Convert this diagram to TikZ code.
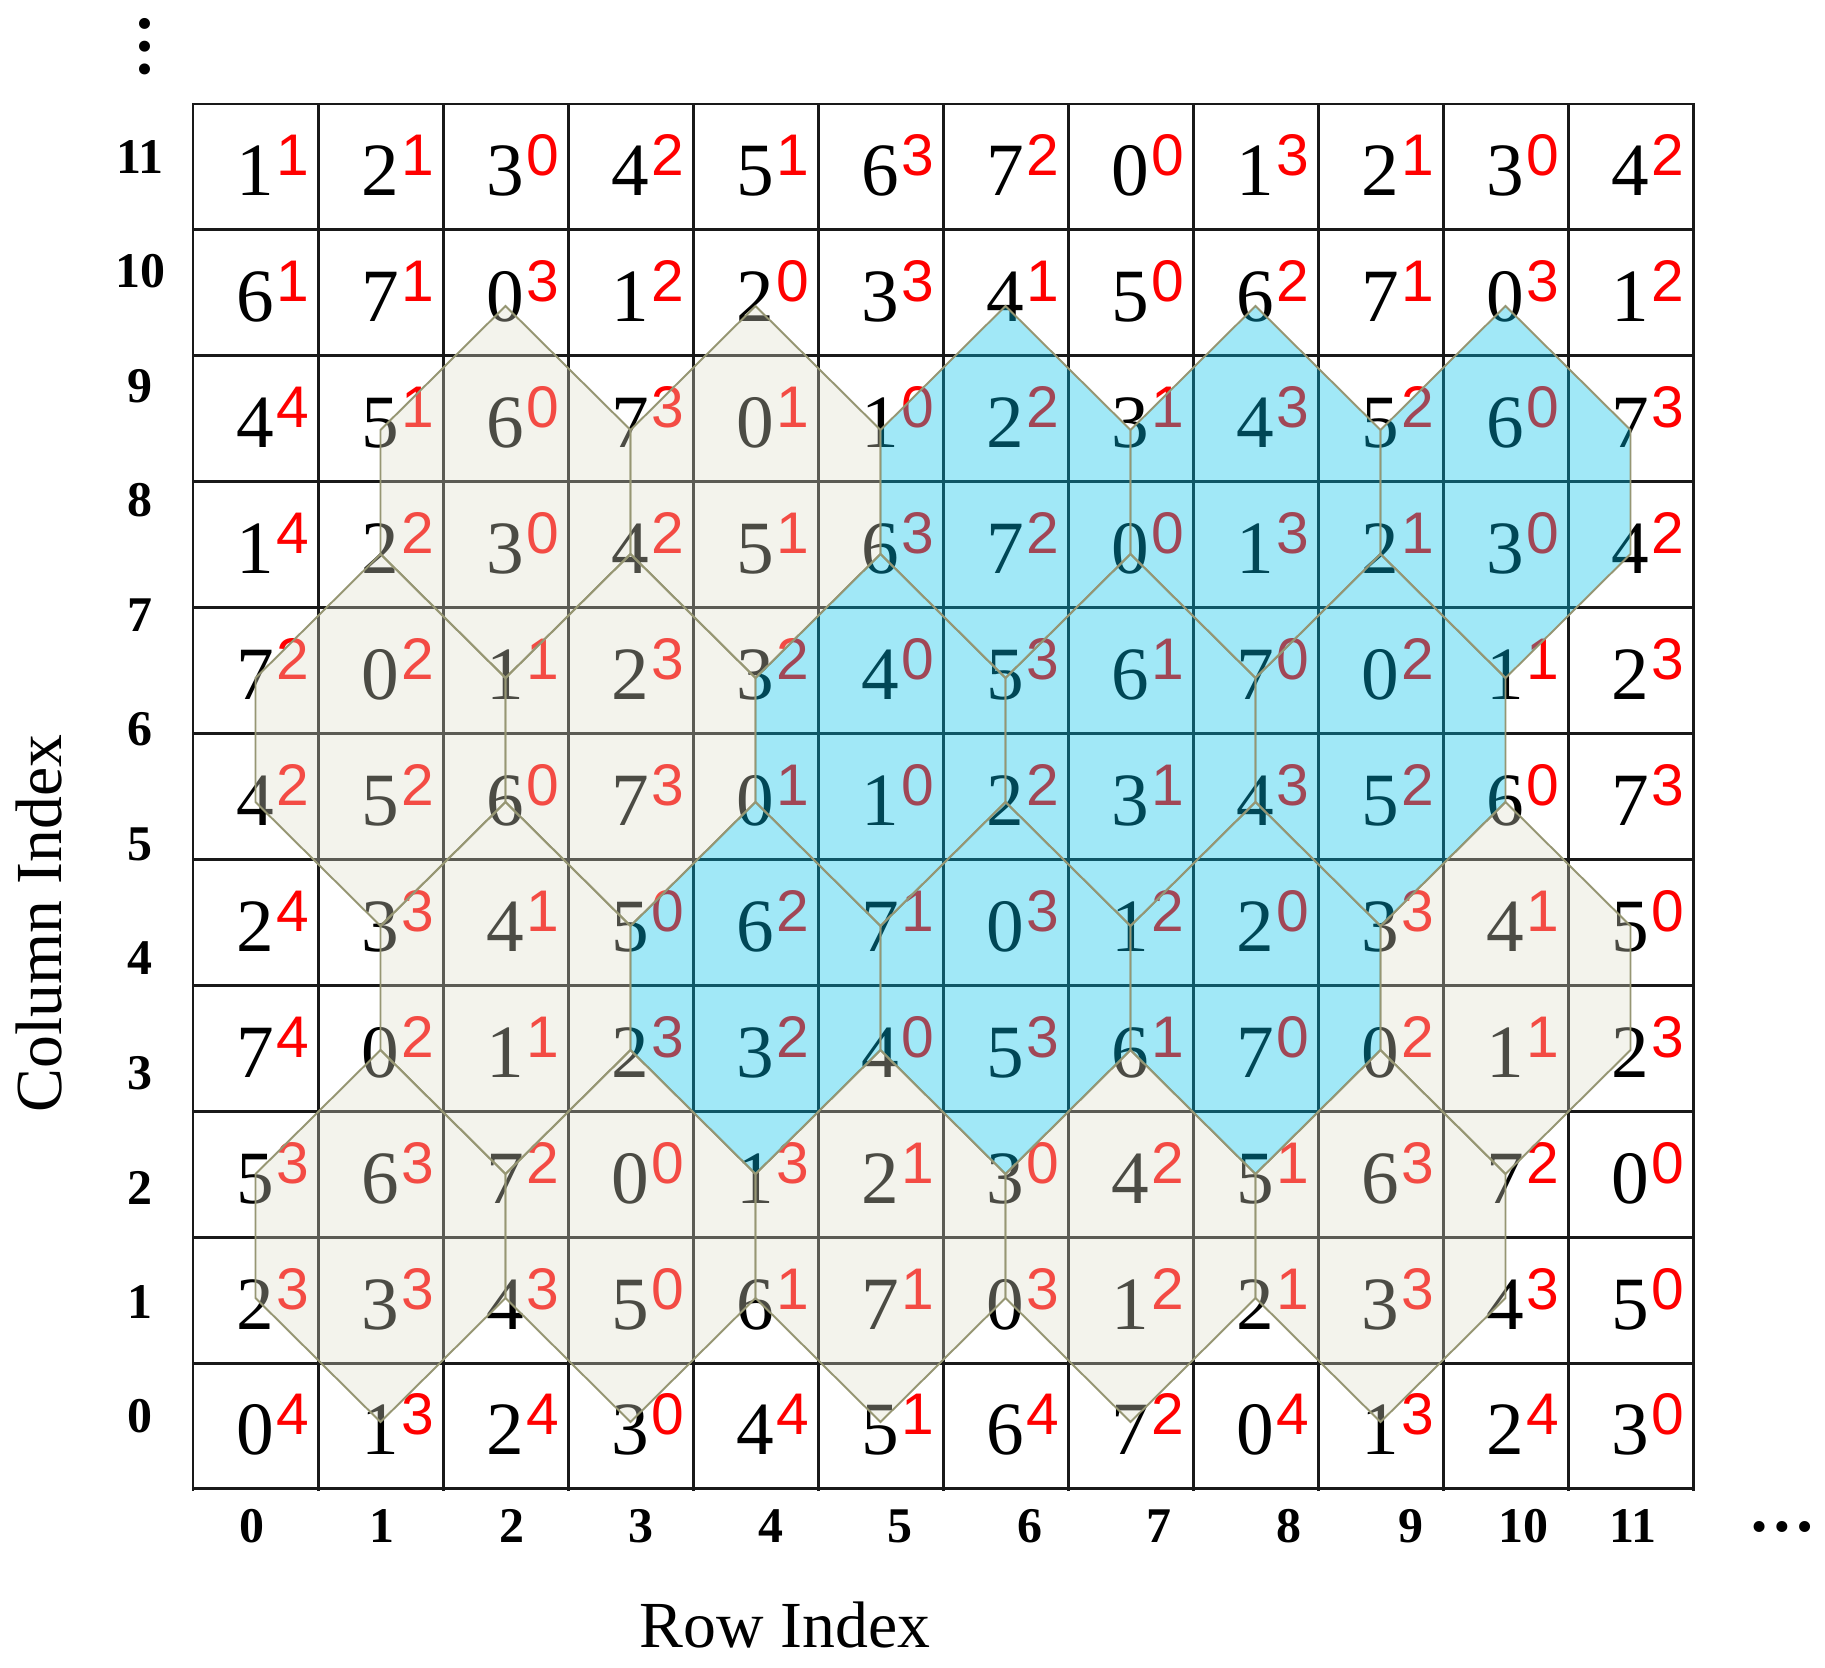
\documentclass[tikz,border=0pt]{standalone}
\usepackage{fontspec}
\setmainfont{Liberation Serif}
\newfontfamily\supfont{Liberation Sans}
\definecolor{hexblue}{RGB}{0,193,236}
\definecolor{hexgrey}{RGB}{220,220,200}
\definecolor{hexline}{RGB}{150,150,115}
\definecolor{gridc}{RGB}{25,25,25}
\definecolor{supred}{RGB}{255,0,0}
\begin{document}
\begin{tikzpicture}[x=0.01cm,y=-0.01cm,
  maindig/.style={inner sep=0pt, font=\fontsize{21.4}{24}\selectfont, text=black},
  supdig/.style={inner sep=0pt, font=\supfont\fontsize{16.7}{19}\selectfont, text=supred},
  axlabel/.style={inner sep=0pt, font=\bfseries\fontsize{14.2}{16}\selectfont},
  axtitle/.style={inner sep=0pt, font=\fontsize{18.7}{21}\selectfont},
  dotsstyle/.style={inner sep=0pt, font=\bfseries\fontsize{19.2}{22}\selectfont},
  gridline/.style={draw=gridc, line width=0.85pt, line cap=rect},
  bluehex/.style={fill=hexblue, fill opacity=0.37, draw=hexline, line width=0.55pt},
  greyhex/.style={fill=hexgrey, fill opacity=0.34, draw=hexline, line width=0.55pt},
]
\useasboundingbox (0,0) rectangle (1825,1667);
\fill[white] (0,0) rectangle (1825,1667);

% grid
\foreach \k in {0,...,12} \draw[gridline] ({193+125*\k},104) -- ({193+125*\k},1489);
\foreach \k in {0,...,11} \draw[gridline] (193,{104+125.9*\k}) -- (1693,{104+125.9*\k});

% cell texts
\foreach \g/\row in {
 10/{1/1,2/1,3/0,4/2,5/1,6/3,7/2,0/0,1/3,2/1,3/0,4/2},
 9/{6/1,7/1,0/3,1/2,2/0,3/3,4/1,5/0,6/2,7/1,0/3,1/2},
 8/{4/4,5/1,6/0,7/3,0/1,1/0,2/2,3/1,4/3,5/2,6/0,7/3},
 7/{1/4,2/2,3/0,4/2,5/1,6/3,7/2,0/0,1/3,2/1,3/0,4/2},
 6/{7/2,0/2,1/1,2/3,3/2,4/0,5/3,6/1,7/0,0/2,1/1,2/3},
 5/{4/2,5/2,6/0,7/3,0/1,1/0,2/2,3/1,4/3,5/2,6/0,7/3},
 4/{2/4,3/3,4/1,5/0,6/2,7/1,0/3,1/2,2/0,3/3,4/1,5/0},
 3/{7/4,0/2,1/1,2/3,3/2,4/0,5/3,6/1,7/0,0/2,1/1,2/3},
 2/{5/3,6/3,7/2,0/0,1/3,2/1,3/0,4/2,5/1,6/3,7/2,0/0},
 1/{2/3,3/3,4/3,5/0,6/1,7/1,0/3,1/2,2/1,3/3,4/3,5/0},
 0/{0/4,1/3,2/4,3/0,4/4,5/1,6/4,7/2,0/4,1/3,2/4,3/0}}{
  \foreach \m/\s [count=\ci from 0] in \row {
    \node[maindig, anchor=base] (m-\ci-\g) at ({255.5+125*\ci},{1454.95-125.9*\g}) {\m};
    \node[supdig, anchor=base west] (s-\ci-\g) at ({275.5+125*\ci},{1434.95-125.9*\g}) {\s};
  }
}

% hexagons (translucent overlay)
\foreach \hx/\hy in {2/7.5,4/7.5,1/5.5,3/5.5,2/3.5,10/3.5,1/1.5,3/1.5,5/1.5,7/1.5,9/1.5}
  \draw[greyhex] ({255.5+125*\hx},{1422-124*(\hy+1.5)})
    -- ({255.5+125*(\hx-1)},{1422-124*(\hy+0.5)})
    -- ({255.5+125*(\hx-1)},{1422-124*(\hy-0.5)})
    -- ({255.5+125*\hx},{1422-124*(\hy-1.5)})
    -- ({255.5+125*(\hx+1)},{1422-124*(\hy-0.5)})
    -- ({255.5+125*(\hx+1)},{1422-124*(\hy+0.5)}) -- cycle;
\foreach \hx/\hy in {6/7.5,8/7.5,10/7.5,5/5.5,7/5.5,9/5.5,4/3.5,6/3.5,8/3.5}
  \draw[bluehex] ({255.5+125*\hx},{1422-124*(\hy+1.5)})
    -- ({255.5+125*(\hx-1)},{1422-124*(\hy+0.5)})
    -- ({255.5+125*(\hx-1)},{1422-124*(\hy-0.5)})
    -- ({255.5+125*\hx},{1422-124*(\hy-1.5)})
    -- ({255.5+125*(\hx+1)},{1422-124*(\hy-0.5)})
    -- ({255.5+125*(\hx+1)},{1422-124*(\hy+0.5)}) -- cycle;

% axis labels
\foreach \k in {0,...,11}
  \node[axlabel] (yl\k) at (140,{157+(11-\k)*114.5}) {\k};
\foreach \k/\xx in {0/252,1/382,2/512,3/641,4/771,5/900,6/1030,7/1159,8/1289,9/1411,10/1523,11/1633}
  \node[axlabel] (xl\k) at (\xx,1526) {\k};

\node[dotsstyle] (hdots) at (1782,1527) {…};
\node[dotsstyle, rotate=90] (vdots) at (145,47) {…};

\node[axtitle, anchor=base] (rowt) at (785,1647) {Row Index};
\node[axtitle, anchor=base, rotate=90] (colt) at (61,923.5) {Column Index};
\end{tikzpicture}
\end{document}
